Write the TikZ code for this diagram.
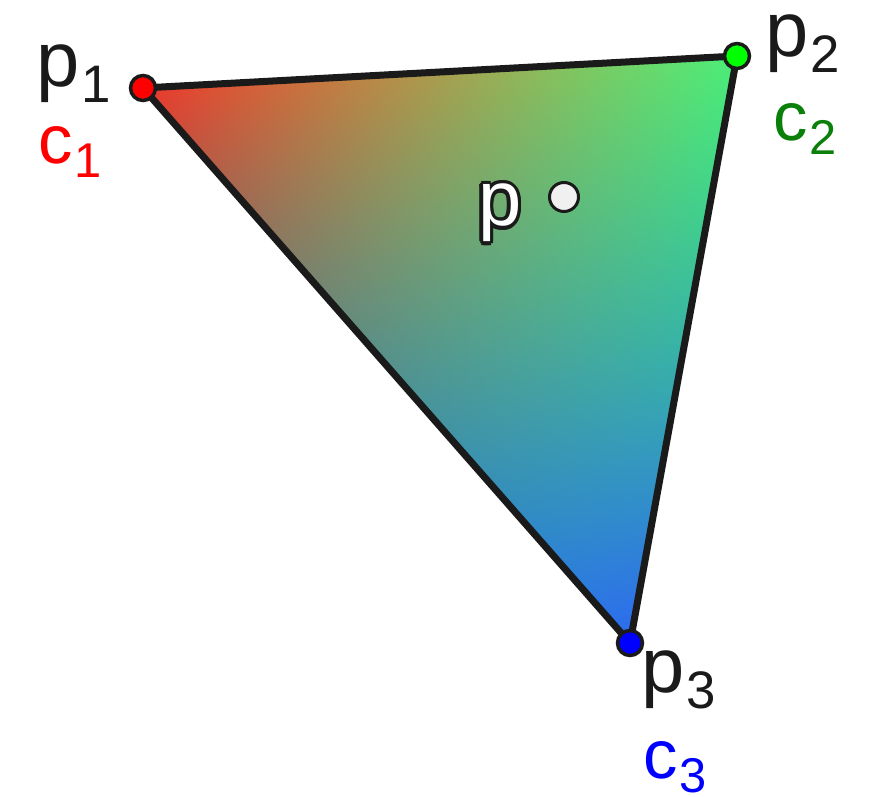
\documentclass[tikz,border=0pt]{standalone}
\usepackage{fontspec}
\setmainfont{Liberation Sans}
\usetikzlibrary{calc}
\definecolor{edgegray}{RGB}{26,26,26}
\definecolor{dotgray}{RGB}{240,240,240}
\definecolor{labelgreen}{RGB}{10,128,10}

\newcommand{\subsz}{50}
\newcommand{\idx}[1]{\raisebox{-0.2em}{\kern0.03em\fontsize{\subsz}{\subsz}\selectfont #1}}

% stack: x y -> l1 l2 -> r g b (quadratic patch over the triangle)
\pgfdeclarefunctionalshading{bary}{\pgfpointorigin}{\pgfpoint{100bp}{100bp}}{}{%
  2 copy 0.0036398 mul exch -0.020199 mul add 1.241926 add 3 1 roll
  0.016559 mul exch 0.019096 mul add -1.674119 add
  2 copy 2 copy 1.145098 mul exch 0.862745 mul add -0.117647 add 3 -1 roll mul exch dup 0.078431 mul 0.039216 add mul add 0.176471 add 3 1 roll
  2 copy 2 copy -0.941176 mul exch -1.019608 mul add 0.823529 add 3 -1 roll mul exch dup -0.101961 mul 0.623529 add mul add 0.411765 add 3 1 roll
  2 copy 2 copy 0.188235 mul exch 0.054902 mul add -0.827451 add 3 -1 roll mul exch dup 0.203922 mul -0.682353 add mul add 0.949020 add 3 1 roll pop pop
}

\begin{document}
\begin{tikzpicture}[x=1bp,y=1bp,
    vertex/.style={circle, draw=edgegray, line width=3.5bp, inner sep=0pt, minimum size=25bp},
    plabel/.style={anchor=base west, inner sep=0pt, text=edgegray, font=\fontsize{78}{78}\selectfont\renewcommand{\subsz}{53}},
    clabel/.style={anchor=base west, inner sep=0pt, font=\fontsize{69}{69}\selectfont\renewcommand{\subsz}{49}},
    edge/.style={draw=edgegray, line width=7bp, line join=round}]
    \useasboundingbox (0,0) rectangle (875,797);

    \coordinate (p1) at (143,709);
    \coordinate (p2) at (737,741);
    \coordinate (p3) at (630,154);
    \coordinate (p) at (564,600);
    \coordinate (plbl) at (478,571);

    % triangle
    \shade[shading=bary] (p1) -- (p2) -- (p3) -- cycle;
    \draw[edge] (p1) -- (p2) -- (p3) -- cycle;

    \node[vertex, fill=red] (v1) at (p1) {};
    \node[vertex, fill=green] (v2) at (p2) {};
    \node[vertex, fill=blue] (v3) at (p3) {};
    \node[vertex, fill=dotgray, line width=3bp, minimum size=29bp] (vp) at (p) {};

    % white p with dark rim
    \foreach \a in {0,30,...,330}
        \node[plabel] (halo\a) at ($(plbl)+(\a:3.5)$) {p};
    \node[plabel, text=white] (lp) at (plbl) {p};

    \node[plabel] (lp1) at (36,710) {p\idx{1}};
    \node[clabel, text=red] (lc1) at (38,633) {c\idx{1}};
    \node[plabel] (lp2) at (765,740) {p\idx{2}};
    \node[clabel, text=labelgreen] (lc2) at (773,656) {c\idx{2}};
    \node[plabel] (lp3) at (641,104) {p\idx{3}};
    \node[clabel, text=blue] (lc3) at (643,18) {c\idx{3}};
\end{tikzpicture}
\end{document}
